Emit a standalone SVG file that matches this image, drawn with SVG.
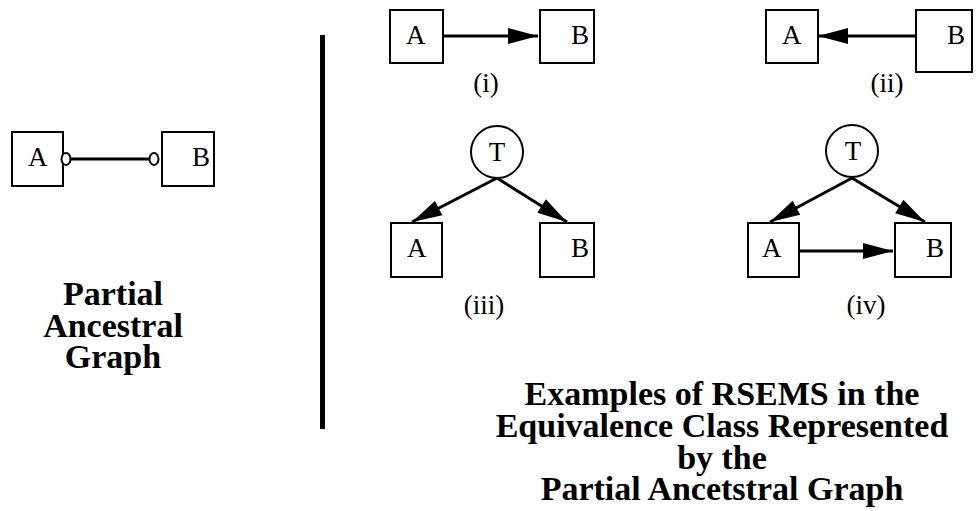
<svg xmlns="http://www.w3.org/2000/svg" width="977" height="511" viewBox="0 0 977 511">
<style>
.box{fill:#fff;stroke:#000;stroke-width:2}
.circ{fill:#fff;stroke:#000;stroke-width:2}
.lbl{font-family:"Liberation Serif","Times New Roman",serif;font-size:27px;fill:#000}
.ttl{font-family:"Liberation Serif","Times New Roman",serif;font-size:34px;font-weight:bold;fill:#000;text-anchor:middle}
.edge{stroke:#000;stroke-width:3;fill:none}
</style>
<defs>
<marker id="ah" markerUnits="userSpaceOnUse" markerWidth="30" markerHeight="16" refX="30" refY="8" orient="auto" overflow="visible">
<path d="M0,0 L30,8 L0,16 z" fill="#000"/>
</marker>
</defs>
<rect x="0" y="0" width="977" height="511" fill="#fff"/>

<g id="connectors">
<line class="edge" x1="71" y1="159" x2="149" y2="159"/>
<line class="edge" x1="443" y1="36" x2="538" y2="36" marker-end="url(#ah)"/>
<line class="edge" x1="916" y1="36" x2="818" y2="36" marker-end="url(#ah)"/>
<line class="edge" x1="497" y1="178" x2="412" y2="222" marker-end="url(#ah)"/>
<line class="edge" x1="497" y1="178" x2="567" y2="222" marker-end="url(#ah)"/>
<line class="edge" x1="852" y1="178" x2="770" y2="222" marker-end="url(#ah)"/>
<line class="edge" x1="852" y1="178" x2="925" y2="222" marker-end="url(#ah)"/>
<line class="edge" x1="799" y1="251" x2="893" y2="251" marker-end="url(#ah)"/>
</g>

<g id="pag-A"><rect class="box" x="12" y="132" width="51" height="54"/><text class="lbl" x="28" y="166">A</text></g>
<g id="pag-B"><rect class="box" x="162" y="132" width="52" height="54"/><text class="lbl" x="192" y="166">B</text></g>
<g id="pag-marks">
<ellipse cx="66" cy="159" rx="4.5" ry="6" fill="#fff" stroke="#000" stroke-width="2"/>
<ellipse cx="154" cy="159" rx="4.5" ry="6" fill="#fff" stroke="#000" stroke-width="2"/>
</g>

<g id="i-A"><rect class="box" x="390" y="10" width="53" height="53"/><text class="lbl" x="406" y="44">A</text></g>
<g id="i-B"><rect class="box" x="540" y="10" width="54" height="53"/><text class="lbl" x="571" y="44">B</text></g>
<text class="lbl" x="486" y="92" text-anchor="middle">(i)</text>

<g id="ii-A"><rect class="box" x="766" y="10" width="52" height="53"/><text class="lbl" x="782" y="44">A</text></g>
<g id="ii-B"><rect class="box" x="916" y="10" width="56" height="62"/><text class="lbl" x="947" y="44">B</text></g>
<text class="lbl" x="887" y="92" text-anchor="middle">(ii)</text>

<g id="iii-T"><circle class="circ" cx="497" cy="152" r="26"/><text class="lbl" x="497" y="161" text-anchor="middle">T</text></g>
<g id="iii-A"><rect class="box" x="391" y="223" width="51" height="54"/><text class="lbl" x="407" y="257">A</text></g>
<g id="iii-B"><rect class="box" x="540" y="223" width="54" height="54"/><text class="lbl" x="571" y="257">B</text></g>
<text class="lbl" x="484" y="314" text-anchor="middle">(iii)</text>

<g id="iv-T"><circle class="circ" cx="852" cy="151" r="26"/><text class="lbl" x="853" y="160" text-anchor="middle">T</text></g>
<g id="iv-A"><rect class="box" x="748" y="223" width="51" height="54"/><text class="lbl" x="762" y="257">A</text></g>
<g id="iv-B"><rect class="box" x="895" y="223" width="56" height="54"/><text class="lbl" x="926" y="257">B</text></g>
<text class="lbl" x="866" y="314" text-anchor="middle">(iv)</text>

<rect x="320" y="35" width="5" height="394" fill="#000"/>

<g id="left-title">
<text class="ttl"><tspan x="113" y="305">Partial</tspan><tspan x="113" y="337">Ancestral</tspan><tspan x="113" y="368">Graph</tspan></text>
</g>
<g id="right-title">
<text class="ttl"><tspan x="722" y="405">Examples of RSEMS in the</tspan><tspan x="722" y="437">Equivalence Class Represented</tspan><tspan x="722" y="469">by  the</tspan><tspan x="722" y="500">Partial Ancetstral Graph</tspan></text>
</g>
</svg>
